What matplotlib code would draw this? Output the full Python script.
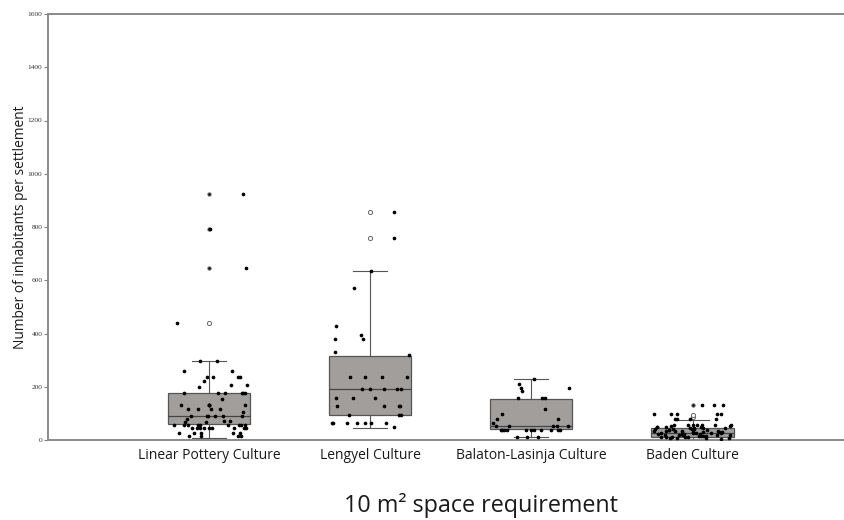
"""Box plots of settlement size per culture with the individual settlements overlaid."""

import numpy as np

import matplotlib
matplotlib.use("Agg")
import matplotlib.pyplot as plt

cultures = ["Linear Pottery Culture", "Lengyel Culture",
            "Balaton-Lasinja Culture", "Baden Culture"]

# box statistics (SPSS style)
q1 = [59, 94, 41, 10]
median = [90, 191, 51, 25]
q3 = [176, 316, 155, 45]
whisker_lo = [9, 45, 13, 2]
whisker_hi = [296, 635, 229, 75]
outliers = [[440], [760, 857], [], [86, 93]]
extremes = [[647, 793, 925], [], [], [131]]

# individual settlements
linear_pottery = [925, 793, 647, 440, 296, 296, 259, 259, 235, 235, 235, 235,
                  222, 205, 205, 198, 176, 176, 176, 176, 176, 176, 155,
                  131, 131, 131, 131, 131, 115, 115, 115, 115, 104,
                  90, 90, 90, 90, 90, 90, 80, 71, 71, 68, 66,
                  58, 58, 58, 58, 58, 58, 58, 58, 58,
                  45, 45, 45, 45, 45, 45, 45, 45, 45,
                  28, 28, 28, 28, 28, 15, 15, 15, 15]
lengyel = [857, 760, 635, 571, 428, 396, 379, 379, 332, 318,
           238, 238, 238, 238, 190, 190, 190, 190, 190, 159, 159, 159,
           128, 128, 128, 128, 94, 94, 94, 65, 65, 65, 65, 65, 65, 65, 48]
balaton_lasinja = [229, 209, 197, 184, 194, 157, 157, 157, 116, 98, 78, 78, 65,
                   53, 53, 53, 53, 53, 38, 38, 38, 38, 38, 38, 38, 38, 38,
                   38, 38, 13, 13, 13]
baden = [130, 130, 130, 96, 96, 96, 96, 96, 79, 79, 79, 79,
         58, 58, 58, 58, 58, 58, 58, 54, 52, 50, 50, 48, 47, 46, 45, 45,
         44, 43, 42, 40, 40, 38, 37, 36, 35, 35, 34, 33, 32, 31, 30, 30,
         29, 28, 27, 26, 25, 25, 24, 23, 22, 21, 20, 20, 19, 18, 17, 16,
         15, 15, 14, 13, 12, 11, 10, 10, 9, 8, 7, 6, 5]
points = [linear_pottery, lengyel, balaton_lasinja, baden]

BOX_FACE = "#a19e9b"
EDGE = "#555555"
SANS = ["Open Sans", "DejaVu Sans"]

fig = plt.figure(figsize=(8.44, 5.2), dpi=100)
ax = fig.add_axes([48 / 844, 1 - 440 / 520, 1 - 48 / 844, 426 / 520])

pos = np.arange(1, len(cultures) + 1)
stats = [dict(q1=a, med=m, q3=b, whislo=lo, whishi=hi, fliers=[])
         for a, m, b, lo, hi in zip(q1, median, q3, whisker_lo, whisker_hi)]
ax.bxp(stats, positions=pos, widths=0.51, patch_artist=True, showfliers=False,
       boxprops=dict(facecolor=BOX_FACE, edgecolor=EDGE, linewidth=0.9),
       medianprops=dict(color="#444444", linewidth=0.9),
       whiskerprops=dict(color=EDGE, linewidth=0.8),
       capprops=dict(color=EDGE, linewidth=0.8), capwidths=0.21, zorder=2)

for p, out, ext in zip(pos, outliers, extremes):
    if out:
        ax.scatter(np.full(len(out), p), out, s=9, facecolor="white",
                   edgecolor="#666666", linewidth=0.7, zorder=3)
    if ext:
        ax.scatter(np.full(len(ext), p), ext, s=7, color="#222222",
                   edgecolor="#888888", linewidth=0.5, zorder=3)

# individual settlements, spread across the box width
for p, vals in zip(pos, points):
    vals = np.asarray(vals, dtype=float)
    jitter = (np.random.default_rng(int(p) + 3).random(vals.size) - 0.5) * 0.48
    ax.scatter(p + jitter, vals, s=7, color="black", linewidth=0, zorder=4)

ax.set_xlim(0, 4.94)
ax.set_ylim(0, 1600)
ax.set_yticks(np.arange(0, 1601, 200))
ax.tick_params(axis="y", direction="out", length=3, width=0.8, color="#808080",
               labelsize=5.3, labelcolor="#333333", pad=1)
for lab in ax.get_yticklabels():
    lab.set_family("Liberation Serif")
ax.set_xticks(pos)
ax.set_xticklabels(cultures, fontsize=10, family=SANS, color="#1a1a1a")
ax.tick_params(axis="x", length=0, pad=6)

ax.spines["right"].set_visible(False)
for side in ("left", "bottom", "top"):
    ax.spines[side].set_color("#8a8a8a")
    ax.spines[side].set_linewidth(1.4)

ax.set_ylabel("Number of inhabitants per settlement", fontsize=9.9, family=SANS,
              color="#1a1a1a", labelpad=0)
fig.text(0.570, 0.004, "10 m² space requirement", ha="center", va="bottom",
         fontsize=16.8, family=SANS, color="#1a1a1a")

fig.savefig("out.png", dpi=100)
plt.close(fig)
